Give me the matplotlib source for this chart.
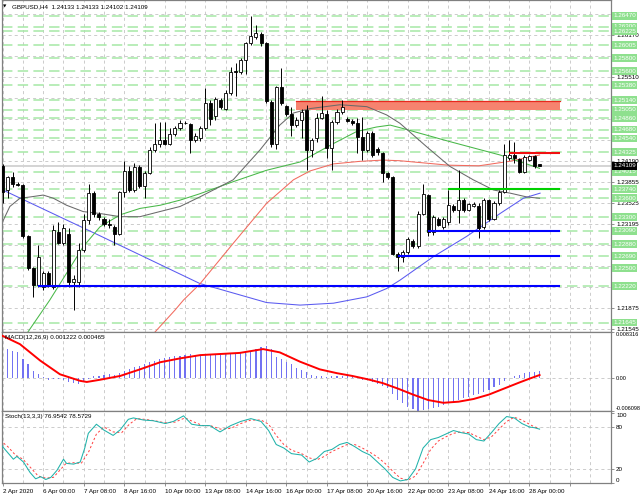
import matplotlib
matplotlib.use("Agg")
import matplotlib.pyplot as plt
from matplotlib.patches import Rectangle

plt.rcParams['font.family'] = ['Liberation Sans', 'DejaVu Sans']
plt.rcParams['lines.scale_dashes'] = False

# ---------------- data ----------------
symbol_title = "GBPUSD,H4  1.24133 1.24133 1.24102 1.24109"
macd_title = "MACD(12,26,9) 0.001222 0.000465"
stoch_title = "Stoch(13,3,3) 76.9542 78.5729"

opens = [1.2410, 1.2373, 1.2394, 1.2383, 1.2381, 1.2300, 1.2250, 1.2224, 1.2221, 1.2243,
         1.2221, 1.2307, 1.2290, 1.2304, 1.2229, 1.2229, 1.2279, 1.2326, 1.2368, 1.2335,
         1.2328, 1.2320, 1.2315, 1.2304, 1.2370, 1.2403, 1.2373, 1.2409, 1.2379, 1.2400,
         1.2436, 1.2446, 1.2452, 1.2446, 1.2461, 1.2470, 1.2479, 1.2477, 1.2452, 1.2454,
         1.2470, 1.2510, 1.2490, 1.2514, 1.2501, 1.2525, 1.2560, 1.2559, 1.2577, 1.2604,
         1.2614, 1.2619, 1.2604, 1.2512, 1.2446, 1.2535, 1.2505, 1.2492, 1.2475, 1.2483,
         1.2499, 1.2436, 1.2454, 1.2486, 1.2493, 1.2439, 1.2480, 1.2496, 1.2484, 1.2482,
         1.2478, 1.2457, 1.2436, 1.2462, 1.2437, 1.2431, 1.2400, 1.2393, 1.2273, 1.2268,
         1.2276, 1.2293, 1.2285, 1.2336, 1.2365, 1.2307, 1.2328, 1.2315, 1.2322, 1.2348,
         1.2342, 1.2358, 1.2342, 1.2348, 1.2348, 1.2315, 1.2357, 1.2328, 1.2352, 1.2370,
         1.2424, 1.2428, 1.2421, 1.2402, 1.2420, 1.2426, 1.24133]
highs = [1.2414, 1.2395, 1.2402, 1.2386, 1.2383, 1.2302, 1.2252, 1.2287, 1.2246, 1.2245,
         1.2318, 1.2323, 1.2320, 1.2313, 1.2240, 1.2289, 1.2336, 1.2383, 1.2372, 1.2338,
         1.2331, 1.2327, 1.2318, 1.2372, 1.2418, 1.2410, 1.2415, 1.2412, 1.2403, 1.2440,
         1.2478, 1.2480, 1.2480, 1.2470, 1.2474, 1.2483, 1.2482, 1.2479, 1.2462, 1.2474,
         1.2533, 1.2514, 1.2519, 1.2517, 1.2530, 1.2567, 1.2573, 1.2580, 1.2606, 1.2646,
         1.2632, 1.2622, 1.2606, 1.2515, 1.2537, 1.2564, 1.2507, 1.2504, 1.2488, 1.2500,
         1.2507, 1.2455, 1.2494, 1.2520, 1.2499, 1.2483, 1.2500, 1.2515, 1.2487, 1.2484,
         1.2486, 1.2488, 1.2465, 1.2465, 1.2440, 1.2433, 1.2402, 1.2395, 1.2275, 1.2278,
         1.2299, 1.2296, 1.2340, 1.2383, 1.2367, 1.2333, 1.2330, 1.2331, 1.2373, 1.2351,
         1.2404, 1.2360, 1.2353, 1.2354, 1.2352, 1.2360, 1.2359, 1.2355, 1.2373, 1.2446,
         1.2452, 1.2449, 1.2424, 1.2428, 1.2428, 1.2428, 1.24133]
lows = [1.2352, 1.2360, 1.2378, 1.2379, 1.2298, 1.2247, 1.2205, 1.2221, 1.2216, 1.2220,
        1.2218, 1.2288, 1.2287, 1.2221, 1.2184, 1.2221, 1.2275, 1.2320, 1.2330, 1.2326,
        1.2316, 1.2313, 1.2286, 1.2302, 1.2362, 1.2370, 1.2370, 1.2376, 1.2360, 1.2398,
        1.2433, 1.2441, 1.2443, 1.2444, 1.2458, 1.2467, 1.2476, 1.2431, 1.2449, 1.2450,
        1.2467, 1.2475, 1.2483, 1.2500, 1.2499, 1.2522, 1.2520, 1.2556, 1.2556, 1.2601,
        1.2610, 1.2600, 1.2510, 1.2440, 1.2438, 1.2507, 1.2490, 1.2458, 1.2472, 1.2454,
        1.2404, 1.2425, 1.2449, 1.2484, 1.2423, 1.2404, 1.2477, 1.2493, 1.2480, 1.2475,
        1.2431, 1.2420, 1.2433, 1.2425, 1.2428, 1.2386, 1.2390, 1.2270, 1.2245, 1.2260,
        1.2273, 1.2282, 1.2282, 1.2333, 1.2300, 1.2302, 1.2316, 1.2312, 1.2318, 1.2339,
        1.2321, 1.2338, 1.2340, 1.2346, 1.2297, 1.2312, 1.2325, 1.2326, 1.2350, 1.2368,
        1.2420, 1.2416, 1.2399, 1.2400, 1.2418, 1.2408, 1.24102]
closes = [1.2370, 1.2394, 1.2383, 1.2381, 1.2300, 1.2250, 1.2224, 1.2268, 1.2243, 1.2222,
          1.2310, 1.2290, 1.2313, 1.2229, 1.2233, 1.2279, 1.2326, 1.2369, 1.2335, 1.2330,
          1.2320, 1.2318, 1.2304, 1.2370, 1.2403, 1.2373, 1.2409, 1.2379, 1.2400, 1.2436,
          1.2446, 1.2452, 1.2446, 1.2461, 1.2470, 1.2479, 1.2478, 1.2452, 1.2458, 1.2470,
          1.2509, 1.2484, 1.2516, 1.2504, 1.2525, 1.2559, 1.2558, 1.2577, 1.2604, 1.2615,
          1.2620, 1.2604, 1.2513, 1.2446, 1.2535, 1.2509, 1.2492, 1.2475, 1.2483, 1.2496,
          1.2436, 1.2452, 1.2486, 1.2494, 1.2439, 1.2480, 1.2496, 1.2503, 1.2482, 1.2478,
          1.2457, 1.2436, 1.2462, 1.2428, 1.2432, 1.2400, 1.2393, 1.2273, 1.2268, 1.2276,
          1.2296, 1.2285, 1.2336, 1.2366, 1.2307, 1.2331, 1.2318, 1.2328, 1.2349, 1.2342,
          1.2358, 1.2342, 1.2351, 1.2351, 1.2313, 1.2357, 1.2328, 1.2352, 1.2370, 1.2428,
          1.2428, 1.2423, 1.2402, 1.2425, 1.2426, 1.2410, 1.24109]

# moving averages (bar index, price)
ma_gray_x = [-0.5, 1.4, 3.4, 5.4, 8, 10, 12.6, 15.9, 19.2, 23.2, 27.1, 31, 35, 38.9, 45.5, 50.8,
             54.7, 57.4, 60.7, 66.6, 71.9, 75.8, 78.4, 83.7, 88.3, 92.9, 96.9, 100.2, 103.5, 106]
ma_gray_y = [1.2315, 1.2347, 1.2360, 1.2362, 1.2365, 1.2360, 1.2349, 1.2339, 1.2336, 1.2331,
             1.2331, 1.2339, 1.2347, 1.2362, 1.2389, 1.2436, 1.2475, 1.2494, 1.2501, 1.2507,
             1.2504, 1.2491, 1.2478, 1.2441, 1.2410, 1.2389, 1.2373, 1.2368, 1.2362, 1.2360]
ma_green_x = [5.0, 9.3, 12.6, 15.9, 19.2, 23.2, 27.1, 31.1, 35, 38.9, 45.5, 52.1, 58.7, 65.3,
              69.9, 73.8, 76.5, 78.4, 88.3, 98.2, 106]
ma_green_y = [1.2150, 1.2200, 1.2242, 1.2284, 1.2315, 1.2334, 1.2344, 1.2349, 1.2357, 1.2367,
              1.2386, 1.2404, 1.2417, 1.2446, 1.2465, 1.2472, 1.2475, 1.2471, 1.2449, 1.2428, 1.2407]
ma_red_x = [30.1, 34, 35.7, 38.9, 45.5, 52.1, 57.4, 60.7, 65.3, 70.5, 75.1, 78.4, 88, 94, 100, 106]
ma_red_y = [1.2150, 1.2184, 1.2200, 1.2225, 1.2289, 1.2352, 1.2389, 1.2403, 1.2414, 1.2418,
            1.2420, 1.2419, 1.2412, 1.2411, 1.2418, 1.2428]
ma_blue_x = [-0.5, 19.2, 38.9, 45.5, 52.1, 58.7, 65.3, 71.9, 75.8, 78.4, 85.0, 91.6, 98.2, 102.8, 106.1]
ma_blue_y = [1.2375, 1.2301, 1.2226, 1.2211, 1.2196, 1.2192, 1.2195, 1.2205, 1.2218, 1.2231,
             1.2268, 1.2300, 1.2336, 1.2360, 1.2368]

# drawn objects
zone_start, zone_end, zone_low, zone_high = 57.9, 110.0, 1.24990, 1.25135
res_start, res_end, res_price = 100.0, 110.0, 1.24306
sup_green_start, sup_green_end, sup_green_price = 88.0, 110.0, 1.23740
blue_starts = [84.0, 78.0, 7.0]
blue_prices = [1.23090, 1.22690, 1.22220]
blue_end = 110.0

level_prices = [1.26470, 1.26300, 1.26225, 1.26005, 1.25800, 1.25600, 1.25380, 1.25140,
                1.24990, 1.24860, 1.24680, 1.24540, 1.24325, 1.24015, 1.23740, 1.23600,
                1.23300, 1.23090, 1.22880, 1.22690, 1.22500, 1.22220, 1.21645]
level_labels = ["1.26470", "1.26300", "1.26225", "1.26005", "1.25800", "1.25600", "1.25380", "1.25140",
                "1.25050", "1.24860", "1.24680", "1.24540", "1.24325", "1.24015", "1.23740", "1.23600",
                "1.23300", "1.23090", "1.22880", "1.22690", "1.22500", "1.22220", "1.21645"]

grid_prices = [1.21545, 1.21875, 1.22205, 1.22535, 1.22865, 1.23195, 1.23525, 1.23855,
               1.24190, 1.24520, 1.24850, 1.25180, 1.25510, 1.25840, 1.26170, 1.26500]
grid_labels = ["1.21545", "1.21875", "", "", "", "1.23195", "1.23525", "1.23855",
               "1.24190", "", "", "", "1.25510", "", "1.26170", ""]
bid_price = 1.24109

date_labels = ["2 Apr 2020", "6 Apr 00:00", "7 Apr 08:00", "8 Apr 16:00", "10 Apr 00:00",
               "13 Apr 08:00", "14 Apr 16:00", "16 Apr 00:00", "17 Apr 08:00", "20 Apr 16:00",
               "22 Apr 00:00", "23 Apr 08:00", "24 Apr 16:00", "28 Apr 00:00"]

macd_hist = [0.0058, 0.0053, 0.0049, 0.0046, 0.0034, 0.0024, 0.0012, 0.0006, 0.0001, -0.0004,
             -0.0003, -0.0003, -0.0005, -0.0008, -0.0010, -0.0012, -0.0006, -0.0003, 0.0002, 0.0003,
             0.0004, 0.0006, 0.0004, 0.0009, 0.0012, 0.0015, 0.0020, 0.0021, 0.0024, 0.0028,
             0.0031, 0.0034, 0.0035, 0.0037, 0.0039, 0.0040, 0.0042, 0.0043, 0.0042, 0.0042,
             0.0042, 0.0041, 0.0041, 0.0041, 0.0043, 0.0043, 0.0044, 0.0046, 0.0047, 0.0049,
             0.0052, 0.0055, 0.0057, 0.0052, 0.0037, 0.0034, 0.0029, 0.0024, 0.0017, 0.0014,
             0.0010, 0.0004, 0.0003, 0.0003, 0.0001, 0.0002, 0.0003, 0.0003, 0.0002, 0.0001,
             -0.0001, -0.0004, -0.0005, -0.0008, -0.0011, -0.0015, -0.0019, -0.0030, -0.0040, -0.0047,
             -0.0053, -0.0058, -0.0061, -0.0060, -0.0058, -0.0056, -0.0053, -0.0050, -0.0047, -0.0044,
             -0.0041, -0.0038, -0.0035, -0.0032, -0.0030, -0.0026, -0.0022, -0.0018, -0.0013, -0.0006,
             -0.0001, 0.0003, 0.0005, 0.0008, 0.0010, 0.0011, 0.001222]
macd_sig_x = [0, 3.4, 7.4, 11.3, 15.3, 16.6, 19.2, 23.2, 27.1, 31.1, 35, 39, 42.9, 46.8, 51.4,
              54.7, 58.7, 62.6, 66, 69, 72, 75, 78, 81, 84, 87, 90, 93, 96, 99, 102, 104, 106]
macd_sig_y = [0.0076, 0.0061, 0.0031, 0.0006, -0.0006, -0.0008, -0.0004, 0.0003, 0.0015, 0.0028,
              0.0035, 0.0041, 0.0043, 0.0045, 0.0052, 0.0046, 0.0029, 0.0015, 0.0008, 0.0003,
              -0.0003, -0.0010, -0.0020, -0.0031, -0.0041, -0.0046, -0.0044, -0.0039, -0.0031,
              -0.0020, -0.0009, -0.0002, 0.000465]
macd_min, macd_max = -0.006098, 0.008316

stoch_k_x = [-0.5, 0.8, 2.1, 2.8, 4.1, 5.4, 6.5, 7.5, 8.5, 9.5, 10.7, 12, 12.6, 14, 15.3, 16.2, 16.9,
             18.5, 19.9, 21.8, 23.2, 24.8, 25.8, 27.8, 29.7, 32.1, 33.7, 35.7, 37.3, 39, 40.9, 42.9,
             45, 47, 49, 51, 52.5, 54, 55.5, 57, 59, 60.5, 62, 63.5, 65, 66.5, 68, 69.5, 71, 72.5,
             74, 75.5, 77, 78.5, 80, 81.5, 83, 84.5, 86, 87.5, 89, 90.5, 92, 93.5, 95, 96.5, 98,
             99.5, 101, 102.5, 104, 105, 106]
stoch_k_y = [56, 45, 34, 38, 30, 15, 6, 9, 5, 8, 18, 34, 28, 27, 30, 50, 71,
             84, 76, 68, 76, 91, 93, 90, 89, 85, 88, 96, 84, 82, 82, 73,
             82, 88, 92, 88, 75, 55, 50, 42, 40, 30, 35, 45, 48, 55, 58, 52, 45, 40,
             30, 20, 8, 3, 5, 20, 50, 62, 65, 70, 75, 72, 70, 62, 60, 72, 85,
             95, 93, 85, 80, 79, 76.95]
stoch_d_x = [-0.5, 1, 2.5, 4, 5.5, 7, 8.5, 10, 11.5, 12.5, 14, 15.5, 17, 18.5, 20, 21.8, 23.5, 25,
             26.5, 28, 30, 32, 34, 36, 37.5, 39.5, 41, 43, 45, 47, 49, 51, 52.5, 54, 55.5, 57, 59,
             60.5, 62, 63.5, 65, 66.5, 68, 69.5, 71, 72.5, 74, 75.5, 77, 78.5, 80, 81.5, 83, 84.5,
             86, 87.5, 89, 90.5, 92, 93.5, 95, 96.5, 98, 99.5, 101, 102.5, 104, 105, 106]
stoch_d_y = [61, 52, 40, 34, 22, 10, 7, 8, 20, 28, 29, 28, 45, 70, 80, 73, 72, 84,
             92, 91, 89, 86, 87, 93, 88, 82, 82, 77, 78, 85, 90, 90, 84, 68, 55, 47, 42,
             36, 33, 38, 45, 50, 55, 55, 50, 44, 37, 28, 17, 7, 4, 10, 28, 48,
             60, 66, 71, 73, 72, 67, 62, 66, 77, 88, 94, 90, 84, 80, 78.57]

# ---------------- layout ----------------
W, H = 640, 497
fig = plt.figure(figsize=(6.4, 4.97), dpi=100)
fig.patch.set_facecolor('white')

def px_axes(x0, y0, x1, y1):
    return fig.add_axes([x0 / W, 1 - y1 / H, (x1 - x0) / W, (y1 - y0) / H])

ax = px_axes(1.5, 0, 610.5, 332)
axm = px_axes(1.5, 332, 610.5, 411)
axs = px_axes(1.5, 411, 610.5, 483)

FS = 4.5
GRID_KW = dict(color='#C4C4C4', linewidth=0.6, linestyle=(0, (2.2, 2.2)))
n = len(closes)
idx = list(range(n))
xmin, xmax = -0.24, 120.0
major_x = list(range(0, 113, 8))
minor_x = list(range(4, 120, 8))

for a in (ax, axm, axs):
    a.set_xlim(xmin, xmax)
    a.set_facecolor('white')
    for s in a.spines.values():
        s.set_color('#808080')
        s.set_linewidth(0.9)
    a.set_xticks(major_x)
    a.set_xticks(minor_x, minor=True)
    a.grid(True, axis='x', which='both', **GRID_KW)
    a.yaxis.tick_right()
    a.tick_params(axis='y', which='both', direction='out', length=2.5, width=0.6,
                  color='#808080', labelsize=FS, pad=1.5)
    a.tick_params(axis='x', which='both', length=0, labelbottom=False)
    a.set_axisbelow(True)

# ---------------- main price panel ----------------
ax.set_ylim(1.21497, 1.26717)
ax.set_yticks(grid_prices)
ax.set_yticklabels(grid_labels)
for gp in grid_prices:
    ax.axhline(gp, zorder=0.5, **GRID_KW)

for lp in level_prices:
    ax.axhline(lp, color='#A6E8A6', linewidth=1.1, linestyle=(0, (7.5, 3.8)), zorder=1)

ax.axhline(bid_price, color='#D4D4D4', linewidth=1.4, zorder=1.2)

ax.add_patch(Rectangle((zone_start, zone_low), zone_end - zone_start, zone_high - zone_low,
                       facecolor='#F6836F', edgecolor='none', zorder=1.5))
ax.plot([zone_start, zone_end], [zone_high, zone_high], color='#E8281E', lw=0.9, zorder=1.6)

ax.plot(ma_blue_x, ma_blue_y, color='#5A5AF0', lw=0.75, zorder=2)
ax.plot(ma_red_x, ma_red_y, color='#F26A5E', lw=0.75, zorder=2)
ax.plot(ma_green_x, ma_green_y, color='#48B848', lw=0.75, zorder=2)
ax.plot(ma_gray_x, ma_gray_y, color='#6A6A6A', lw=0.75, zorder=2)

bottoms = [min(o, c) for o, c in zip(opens, closes)]
heights = [max(abs(c - o), 0.00003) for o, c in zip(opens, closes)]
faces = ['white' if c >= o else 'black' for o, c in zip(opens, closes)]
ax.vlines(idx, lows, highs, color='black', linewidth=0.7, zorder=3)
ax.bar(idx, heights, bottom=bottoms, width=0.6, color=faces, edgecolor='black',
       linewidth=0.6, zorder=4)

for bs, bp in zip(blue_starts, blue_prices):
    ax.plot([bs, blue_end], [bp, bp], color='#0000FF', lw=1.5, zorder=5, solid_capstyle='butt')
ax.plot([sup_green_start, sup_green_end], [sup_green_price] * 2, color='#00D000', lw=1.5,
        zorder=5, solid_capstyle='butt')
ax.plot([res_start, res_end], [res_price] * 2, color='#F01010', lw=1.5, zorder=5,
        solid_capstyle='butt')

ytr = ax.get_yaxis_transform()
for lp, lab in zip(level_prices, level_labels):
    ax.text(1.0045, lp, lab, transform=ytr, ha='left', va='center', fontsize=FS, color='white',
            bbox=dict(boxstyle='square,pad=0.22', fc='#8EE08E', ec='none'), clip_on=False, zorder=6)
ax.text(1.0045, bid_price, f"{bid_price:.5f}", transform=ytr, ha='left', va='center', fontsize=FS,
        color='white', bbox=dict(boxstyle='square,pad=0.22', fc='black', ec='none'),
        clip_on=False, zorder=7)

fig.text(3.0 / W, 1 - 6.5 / H, "\u25BC", fontsize=3.2, family='DejaVu Sans', va='center', ha='left')
fig.text(11.5 / W, 1 - 6.5 / H, symbol_title, fontsize=FS, va='center', ha='left')

# ---------------- MACD panel ----------------
axm.set_ylim(macd_min, macd_max)
axm.axhline(0, zorder=0.5, **GRID_KW)
axm.bar(idx, macd_hist, width=0.22, color='#7272F2', zorder=2)
axm.plot(macd_sig_x, macd_sig_y, color='#FF0000', lw=1.4, zorder=3)
axm.set_yticks([macd_min, 0, macd_max])
axm.set_yticklabels(['-0.006098', '0.00', '0.008316'])
axm.tick_params(axis='y', labelsize=4.0, pad=1.0)
tl = axm.get_yticklabels()
tl[0].set_va('bottom')
tl[2].set_va('top')
fig.text(5 / W, 1 - 338 / H, macd_title, fontsize=FS, va='center', ha='left')

# ---------------- Stochastic panel ----------------
axs.set_ylim(0, 102.9)
axs.axhline(20, zorder=0.5, **GRID_KW)
axs.axhline(80, zorder=0.5, **GRID_KW)
axs.plot(stoch_d_x, stoch_d_y, color='#FF4040', lw=0.7, dashes=(1.6, 1.6), zorder=2)
axs.plot(stoch_k_x, stoch_k_y, color='#20B2AA', lw=0.75, zorder=3)
axs.set_yticks([0, 20, 80, 100])
axs.set_yticklabels(['0', '20', '80', '100'])
tl = axs.get_yticklabels()
tl[0].set_va('bottom')
tl[3].set_va('top')
fig.text(5 / W, 1 - 416.5 / H, stoch_title, fontsize=FS, va='center', ha='left')

axs.set_xticks(major_x)
axs.set_xticklabels(date_labels + [""])
axs.tick_params(axis='x', which='major', length=2.5, width=0.6, color='#808080',
                labelbottom=True, labelsize=FS, pad=1.5, direction='out')
for t in axs.get_xticklabels():
    t.set_ha('left')

fig.savefig("out.png", dpi=100, facecolor='white')
